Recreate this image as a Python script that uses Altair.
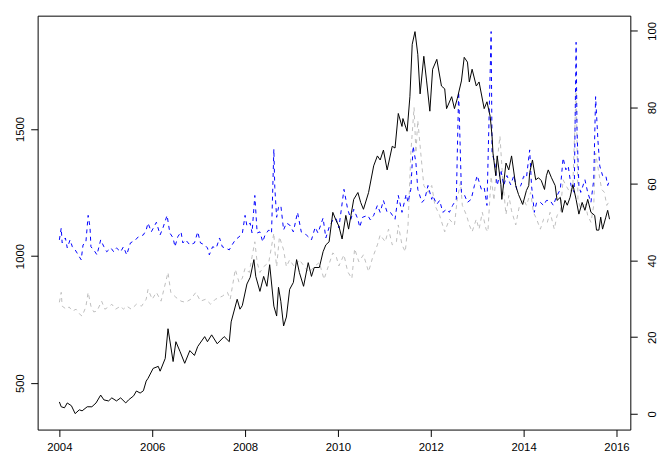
import altair as alt
import pandas as pd

# ---- data ----
gold_year = [2004.00, 2004.04, 2004.11, 2004.17, 2004.26, 2004.34, 2004.43, 2004.49, 2004.60, 2004.70,
             2004.79, 2004.89, 2004.96, 2005.06, 2005.13, 2005.23, 2005.32, 2005.43, 2005.49, 2005.60,
             2005.66, 2005.74, 2005.81, 2005.87, 2005.91, 2006.02, 2006.13, 2006.17, 2006.28, 2006.34,
             2006.45, 2006.51, 2006.60, 2006.70, 2006.81, 2006.91, 2006.98, 2007.13, 2007.19, 2007.28,
             2007.40, 2007.55, 2007.66, 2007.70, 2007.83, 2007.89, 2007.94, 2008.04, 2008.11, 2008.19,
             2008.23, 2008.32, 2008.40, 2008.47, 2008.53, 2008.62, 2008.68, 2008.72, 2008.77, 2008.83,
             2008.89, 2008.96, 2009.04, 2009.11, 2009.17, 2009.26, 2009.36, 2009.43, 2009.49, 2009.60,
             2009.68, 2009.74, 2009.81, 2009.89, 2009.96, 2010.02, 2010.09, 2010.17, 2010.23, 2010.34,
             2010.43, 2010.49, 2010.55, 2010.66, 2010.77, 2010.85, 2010.91, 2010.98, 2011.06, 2011.17,
             2011.23, 2011.30, 2011.38, 2011.40, 2011.49, 2011.55, 2011.60, 2011.66, 2011.72, 2011.77,
             2011.85, 2011.91, 2011.98, 2012.04, 2012.13, 2012.23, 2012.30, 2012.34, 2012.45, 2012.51,
             2012.57, 2012.66, 2012.72, 2012.79, 2012.83, 2012.89, 2012.98, 2013.04, 2013.15, 2013.21,
             2013.28, 2013.32, 2013.34, 2013.40, 2013.43, 2013.51, 2013.53, 2013.62, 2013.68, 2013.74,
             2013.83, 2013.89, 2013.98, 2014.06, 2014.11, 2014.13, 2014.19, 2014.26, 2014.32, 2014.38,
             2014.45, 2014.49, 2014.53, 2014.60, 2014.68, 2014.72, 2014.79, 2014.83, 2014.89, 2014.94,
             2015.00, 2015.06, 2015.13, 2015.19, 2015.26, 2015.32, 2015.38, 2015.45, 2015.53, 2015.57,
             2015.62, 2015.66, 2015.70, 2015.77, 2015.81, 2015.85]
gold_price = [426, 407, 403, 422, 411, 380, 395, 391, 407, 407,
              422, 453, 434, 430, 442, 430, 442, 422, 434, 450,
              469, 461, 470, 508, 519, 558, 566, 547, 597, 714,
              585, 663, 624, 578, 628, 609, 644, 683, 663, 690,
              655, 683, 663, 741, 830, 791, 805, 890, 916, 986,
              920, 861, 920, 881, 966, 803, 764, 877, 822, 725,
              760, 869, 896, 986, 935, 881, 974, 920, 955, 955,
              1017, 1044, 1056, 1172, 1140, 1118, 1067, 1160, 1106, 1223,
              1250, 1211, 1184, 1250, 1355, 1394, 1378, 1417, 1339, 1432,
              1425, 1561, 1510, 1541, 1491, 1627, 1833, 1883, 1794, 1638,
              1786, 1689, 1570, 1735, 1774, 1669, 1658, 1580, 1627, 1580,
              1619, 1689, 1782, 1763, 1685, 1735, 1669, 1685, 1580, 1607,
              1549, 1471, 1405, 1316, 1394, 1281, 1223, 1366, 1339, 1394,
              1277, 1242, 1203, 1258, 1277, 1328, 1378, 1300, 1308, 1297,
              1262, 1316, 1339, 1308, 1277, 1219, 1231, 1172, 1219, 1200,
              1231, 1281, 1223, 1165, 1211, 1180, 1223, 1172, 1160, 1102,
              1102, 1153, 1106, 1153, 1180, 1145]

blue_year = [2004.00, 2004.04, 2004.06, 2004.13, 2004.17, 2004.23, 2004.28, 2004.34, 2004.38, 2004.47,
             2004.51, 2004.57, 2004.62, 2004.66, 2004.68, 2004.74, 2004.81, 2004.89, 2004.96, 2005.02,
             2005.11, 2005.17, 2005.23, 2005.32, 2005.38, 2005.45, 2005.53, 2005.64, 2005.70, 2005.81,
             2005.87, 2005.91, 2005.98, 2006.09, 2006.17, 2006.23, 2006.32, 2006.38, 2006.45, 2006.49,
             2006.55, 2006.62, 2006.66, 2006.72, 2006.81, 2006.91, 2006.98, 2007.04, 2007.13, 2007.19,
             2007.23, 2007.30, 2007.38, 2007.45, 2007.51, 2007.57, 2007.66, 2007.72, 2007.79, 2007.87,
             2007.94, 2008.00, 2008.04, 2008.11, 2008.15, 2008.21, 2008.26, 2008.32, 2008.38, 2008.43,
             2008.51, 2008.57, 2008.62, 2008.64, 2008.68, 2008.72, 2008.77, 2008.83, 2008.89, 2008.96,
             2009.04, 2009.13, 2009.21, 2009.32, 2009.43, 2009.51, 2009.57, 2009.68, 2009.74, 2009.81,
             2009.89, 2009.96, 2010.02, 2010.13, 2010.21, 2010.28, 2010.34, 2010.43, 2010.47, 2010.53,
             2010.64, 2010.70, 2010.77, 2010.85, 2010.91, 2010.98, 2011.06, 2011.13, 2011.23, 2011.30,
             2011.38, 2011.47, 2011.51, 2011.57, 2011.62, 2011.68, 2011.72, 2011.81, 2011.87, 2011.94,
             2012.02, 2012.04, 2012.13, 2012.19, 2012.26, 2012.34, 2012.40, 2012.47, 2012.55, 2012.60,
             2012.66, 2012.72, 2012.79, 2012.87, 2012.94, 2013.00, 2013.09, 2013.15, 2013.21, 2013.30,
             2013.32, 2013.38, 2013.43, 2013.51, 2013.57, 2013.64, 2013.72, 2013.79, 2013.85, 2013.94,
             2014.00, 2014.06, 2014.13, 2014.17, 2014.23, 2014.28, 2014.36, 2014.43, 2014.49, 2014.57,
             2014.64, 2014.70, 2014.79, 2014.85, 2014.91, 2014.96, 2015.02, 2015.09, 2015.13, 2015.15,
             2015.19, 2015.23, 2015.32, 2015.38, 2015.45, 2015.51, 2015.55, 2015.60, 2015.64, 2015.70,
             2015.77, 2015.81, 2015.85]
blue_index = [45.4, 48.5, 44.6, 45.9, 43.3, 45.4, 43.6, 42.8, 42.0, 40.2,
              44.1, 44.6, 51.8, 48.7, 43.6, 42.8, 41.5, 45.4, 43.6, 42.3,
              43.3, 42.3, 43.3, 42.3, 43.6, 41.5, 44.6, 45.4, 46.2, 46.7,
              48.0, 49.8, 47.5, 50.0, 46.7, 48.5, 51.8, 47.2, 45.9, 43.6,
              46.2, 47.5, 44.6, 45.4, 44.1, 44.6, 47.5, 44.6, 44.1, 43.3,
              41.5, 43.6, 43.3, 45.9, 43.6, 43.3, 42.8, 44.1, 45.4, 46.2,
              47.0, 51.8, 49.0, 49.8, 47.2, 57.0, 47.2, 47.5, 44.9, 46.7,
              48.0, 47.2, 69.1, 59.1, 51.3, 53.9, 54.4, 48.0, 49.8, 49.3,
              47.5, 52.6, 47.5, 46.7, 45.4, 48.7, 47.2, 51.1, 45.9, 48.7,
              50.6, 51.0, 48.5, 58.6, 53.4, 50.8, 53.4, 50.8, 48.7, 51.3,
              51.8, 50.6, 51.8, 54.4, 52.6, 55.7, 52.6, 52.6, 50.8, 57.0,
              52.6, 57.3, 55.2, 58.6, 69.9, 65.5, 58.6, 55.2, 56.0, 59.6,
              56.0, 57.0, 54.7, 55.7, 52.6, 53.4, 52.6, 54.4, 56.0, 84.1,
              57.8, 57.3, 55.2, 56.0, 59.6, 62.2, 58.6, 59.1, 54.4, 99.8,
              68.1, 65.5, 59.6, 63.7, 59.6, 62.2, 59.8, 62.2, 58.6, 59.6,
              62.0, 61.6, 68.9, 59.6, 52.6, 55.2, 55.2, 54.4, 55.7, 55.7,
              54.4, 56.5, 58.6, 66.8, 63.7, 64.7, 59.6, 57.8, 97.0, 74.0,
              59.6, 57.8, 61.1, 57.8, 55.2, 61.1, 82.8, 71.4, 64.7, 62.2,
              62.2, 59.6, 60.9]

grey_year = [2004.00, 2004.04, 2004.06, 2004.15, 2004.21, 2004.28, 2004.36, 2004.43, 2004.49, 2004.57,
             2004.62, 2004.68, 2004.74, 2004.81, 2004.91, 2004.98, 2005.06, 2005.13, 2005.21, 2005.32,
             2005.38, 2005.45, 2005.55, 2005.66, 2005.77, 2005.87, 2005.91, 2006.00, 2006.09, 2006.19,
             2006.34, 2006.40, 2006.51, 2006.62, 2006.72, 2006.83, 2006.94, 2007.04, 2007.15, 2007.26,
             2007.36, 2007.51, 2007.62, 2007.68, 2007.79, 2007.87, 2007.94, 2008.00, 2008.09, 2008.15,
             2008.21, 2008.26, 2008.32, 2008.40, 2008.51, 2008.62, 2008.64, 2008.68, 2008.74, 2008.83,
             2008.89, 2008.96, 2009.06, 2009.17, 2009.28, 2009.38, 2009.49, 2009.60, 2009.70, 2009.79,
             2009.89, 2009.96, 2010.02, 2010.13, 2010.21, 2010.30, 2010.36, 2010.45, 2010.55, 2010.66,
             2010.74, 2010.85, 2010.91, 2011.02, 2011.09, 2011.17, 2011.26, 2011.30, 2011.38, 2011.45,
             2011.51, 2011.57, 2011.64, 2011.68, 2011.72, 2011.79, 2011.85, 2011.94, 2012.02, 2012.09,
             2012.19, 2012.30, 2012.40, 2012.51, 2012.57, 2012.64, 2012.68, 2012.77, 2012.83, 2012.89,
             2012.98, 2013.04, 2013.11, 2013.19, 2013.23, 2013.30, 2013.36, 2013.43, 2013.49, 2013.55,
             2013.62, 2013.68, 2013.74, 2013.83, 2013.91, 2014.00, 2014.06, 2014.15, 2014.21, 2014.28,
             2014.36, 2014.43, 2014.51, 2014.57, 2014.66, 2014.72, 2014.79, 2014.85, 2014.91, 2015.00,
             2015.06, 2015.13, 2015.17, 2015.23, 2015.32, 2015.38, 2015.45, 2015.51, 2015.55, 2015.62,
             2015.68, 2015.74, 2015.79, 2015.83]
grey_index = [29.1, 31.7, 28.1, 27.3, 27.9, 26.8, 27.3, 26.1, 25.5, 27.9,
              31.7, 28.1, 26.6, 26.8, 29.4, 27.3, 27.9, 28.6, 27.3, 28.1,
              27.3, 28.1, 27.3, 28.6, 28.1, 29.9, 32.5, 29.9, 31.7, 29.4,
              36.9, 31.7, 30.4, 29.4, 29.1, 29.9, 31.7, 29.4, 29.9, 28.6,
              29.9, 30.7, 31.7, 29.9, 37.7, 34.3, 35.4, 38.0, 36.9, 41.0,
              44.9, 39.5, 36.9, 38.4, 39.5, 47.2, 42.8, 38.4, 46.2, 42.8,
              38.4, 40.2, 38.4, 40.2, 38.4, 36.9, 38.4, 39.5, 35.1, 38.4,
              42.0, 41.2, 38.6, 41.5, 37.1, 35.3, 43.1, 39.7, 41.5, 37.1,
              40.5, 44.1, 46.7, 44.9, 48.2, 44.1, 44.9, 49.3, 44.1, 42.3,
              49.3, 68.1, 80.0, 68.1, 76.6, 67.3, 59.6, 57.8, 59.6, 54.4,
              51.8, 47.5, 50.8, 49.3, 56.0, 60.4, 54.4, 51.8, 49.3, 47.5,
              50.8, 48.2, 52.6, 48.2, 47.5, 62.0, 55.7, 66.0, 72.5, 61.0,
              52.0, 57.0, 53.0, 49.3, 54.4, 56.0, 54.4, 57.8, 52.6, 50.8,
              48.2, 50.8, 50.0, 52.6, 48.2, 51.8, 52.6, 61.1, 59.6, 57.8,
              59.6, 84.3, 56.0, 53.4, 55.2, 51.8, 50.0, 54.4, 68.1, 62.9,
              58.6, 57.8, 54.4, 55.2]

x_ticks = [2004, 2006, 2008, 2010, 2012, 2014, 2016]
left_ticks = [500, 1000, 1500]
right_ticks = [0, 20, 40, 60, 80, 100]

FONT = "Liberation Sans"
FS = 11.5

gold_df = pd.DataFrame({"year": gold_year, "value": gold_price})
blue_df = pd.DataFrame({"year": blue_year, "value": blue_index})
grey_df = pd.DataFrame({"year": grey_year, "value": grey_index})

xscale = alt.Scale(domain=[2003.532, 2016.298], nice=False, zero=False)
xaxis = alt.Axis(values=x_ticks, format="d", title=None, grid=False, domain=False,
                 ticks=True, tickSize=7, tickColor="black", tickWidth=1,
                 labelColor="black", labelFont=FONT, labelFontSize=FS,
                 labelPadding=5, labelFlush=False, labelOverlap=False)

right_scale = alt.Scale(domain=[-4.13, 103.95], nice=False, zero=False)

grey = alt.Chart(grey_df).mark_line(color="#bebebe", strokeWidth=1, strokeDash=[4, 4],
                                    strokeJoin="round").encode(
    x=alt.X("year:Q", scale=xscale, axis=xaxis),
    y=alt.Y("value:Q", scale=right_scale, axis=None),
)

blue = alt.Chart(blue_df).mark_line(color="#0000ff", strokeWidth=1, strokeDash=[4, 4],
                                    strokeJoin="round").encode(
    x=alt.X("year:Q", scale=xscale, axis=xaxis),
    y=alt.Y("value:Q", scale=right_scale,
            axis=alt.Axis(orient="right", values=right_ticks, format="d", title=None, grid=False,
                          domain=False, tickSize=7, tickColor="black",
                          labelColor="black", labelFont=FONT, labelFontSize=FS,
                          labelAngle=270, labelAlign="center", labelBaseline="top",
                          labelPadding=9, labelOverlap=False, labelFlush=False)),
)

gold = alt.Chart(gold_df).mark_line(color="black", strokeWidth=1, strokeJoin="round").encode(
    x=alt.X("year:Q", scale=xscale, axis=xaxis),
    y=alt.Y("value:Q", scale=alt.Scale(domain=[317.3, 1945.8], nice=False, zero=False),
            axis=alt.Axis(orient="left", values=left_ticks, format="d", title=None, grid=False,
                          domain=False, tickSize=7, tickColor="black",
                          labelColor="black", labelFont=FONT, labelFontSize=FS,
                          labelAngle=270, labelAlign="center", labelBaseline="bottom",
                          labelPadding=5, labelOverlap=False, labelFlush=False)),
)

chart = alt.layer(grey, blue, gold).resolve_scale(y="independent").properties(
    width=600, height=419, autosize="none",
    padding={"left": 30, "top": 5, "right": 27, "bottom": 25},
    background="white",
).configure_view(stroke="black", strokeWidth=1)

chart.save("out.html", embed_options={"renderer": "svg", "actions": False})
